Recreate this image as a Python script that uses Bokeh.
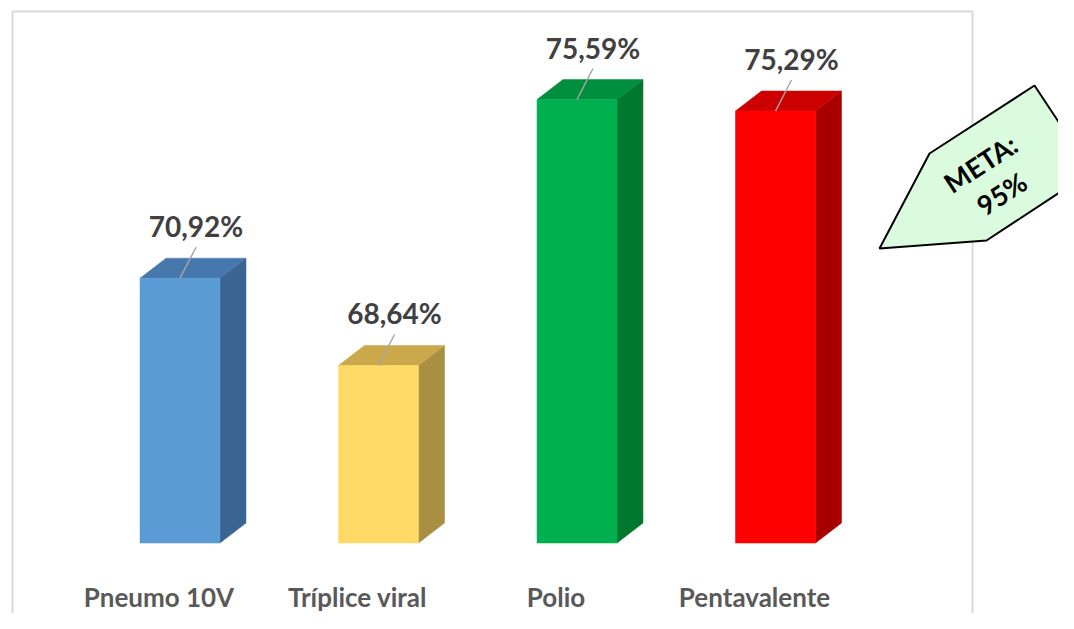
from bokeh.plotting import figure
from bokeh.models import Range1d, ColumnDataSource
from bokeh.core.properties import value
from bokeh.embed import file_html
from bokeh.resources import INLINE

# ---------------- data ----------------
categories = ["Pneumo 10V", "Tríplice viral", "Polio", "Pentavalente"]
coverage = [70.92, 68.64, 75.59, 75.29]
value_labels = ["70,92%", "68,64%", "75,59%", "75,29%"]
front_colors = ["#5B9BD5", "#FFD966", "#00B050", "#FF0000"]
top_colors = ["#4677AD", "#CBA94A", "#008F3E", "#CC0000"]
side_colors = ["#3A6592", "#A88F42", "#00782F", "#A80000"]
goal_lines = ["META:", "95%"]

# ---------------- layout ----------------
W, H = 1058, 613
PX_CAT = 198.5          # px per category step
PX_PCT = 38.27          # px per percentage point
BASE = 64.0             # floor value of the value axis
X_START = -179.5 / PX_CAT
X_END = X_START + W / PX_CAT
Y_TOP = 78.177
Y_BOT = Y_TOP - H / PX_PCT

HALF_W = 40 / PX_CAT     # half front width
DDX = 26 / PX_CAT        # depth offset x
DDY = 20 / PX_PCT        # depth offset y


def px2x(X):
    return X_START + X / PX_CAT


def px2y(Y):
    return Y_TOP - Y / PX_PCT


p = figure(width=W, height=H, x_range=Range1d(X_START, X_END), y_range=Range1d(Y_BOT, Y_TOP),
           x_axis_type=None, y_axis_type=None, toolbar_location=None, output_backend="svg",
           min_border=0, outline_line_color=None, background_fill_color="white",
           border_fill_color="white")
p.xgrid.visible = False
p.ygrid.visible = False

# chart frame
fx = [px2x(12), px2x(972), px2x(972), px2x(12), px2x(12)]
fy = [px2y(11), px2y(11), px2y(700), px2y(700), px2y(11)]
p.line(fx, fy, line_color="#D9D9D9", line_width=2)

xs = list(range(len(categories)))

# 3D bars
front_src = ColumnDataSource(dict(left=[x - HALF_W for x in xs], right=[x + HALF_W for x in xs],
                                  top=coverage, bottom=[BASE] * len(xs), color=front_colors))
top_xs, top_ys, side_xs, side_ys = [], [], [], []
for x, v in zip(xs, coverage):
    xl, xr = x - HALF_W, x + HALF_W
    top_xs.append([xl, xl + DDX, xr + DDX, xr])
    top_ys.append([v, v + DDY, v + DDY, v])
    side_xs.append([xr, xr, xr + DDX, xr + DDX])
    side_ys.append([BASE, v, v + DDY, BASE + DDY])
p.patches(side_xs, side_ys, fill_color=side_colors, line_color=side_colors, line_width=0.5)
p.patches(top_xs, top_ys, fill_color=top_colors, line_color=top_colors, line_width=0.5)
p.quad(left="left", right="right", top="top", bottom="bottom", fill_color="color",
       line_color="color", line_width=0.5, source=front_src)

# leader lines and value labels
lead_x0 = [x for x in xs]
lead_x1 = [x + 16 / PX_CAT for x in xs]
lead_y0 = list(coverage)
lead_y1 = [v + 31 / PX_PCT for v in coverage]
p.segment(lead_x0, lead_y0, lead_x1, lead_y1, line_color="#A6A6A6", line_width=1.5)

p.text(x=[x + 16 / PX_CAT for x in xs], y=[v + 52 / PX_PCT for v in coverage], text=value_labels,
       text_font=value("Lato"), text_font_style="bold", text_font_size="28px",
       text_color="#404040", text_align="center", text_baseline="middle")

# category labels
p.text(x=[x - 21 / PX_CAT for x in xs], y=[px2y(596)] * len(xs), text=categories,
       text_font=value("Lato"), text_font_style="bold", text_font_size="26px",
       text_color="#595959", text_align="center", text_baseline="middle")

# goal callout (pentagon arrow)
cx = [px2x(X) for X in (1034, 1091, 986, 879, 929)]
cy = [px2y(Y) for Y in (85, 171, 240, 248, 153)]
p.patch(cx, cy, fill_color="#DAFBDD", line_color="black", line_width=2)
p.text(x=[px2x(980), px2x(1001)], y=[px2y(163), px2y(193)], text=goal_lines,
       angle=0.58, text_font=value("Lato"), text_font_style="bold", text_font_size="27px",
       text_color="black", text_align="center", text_baseline="middle")

open("out.html", "w").write(file_html(p, INLINE))
